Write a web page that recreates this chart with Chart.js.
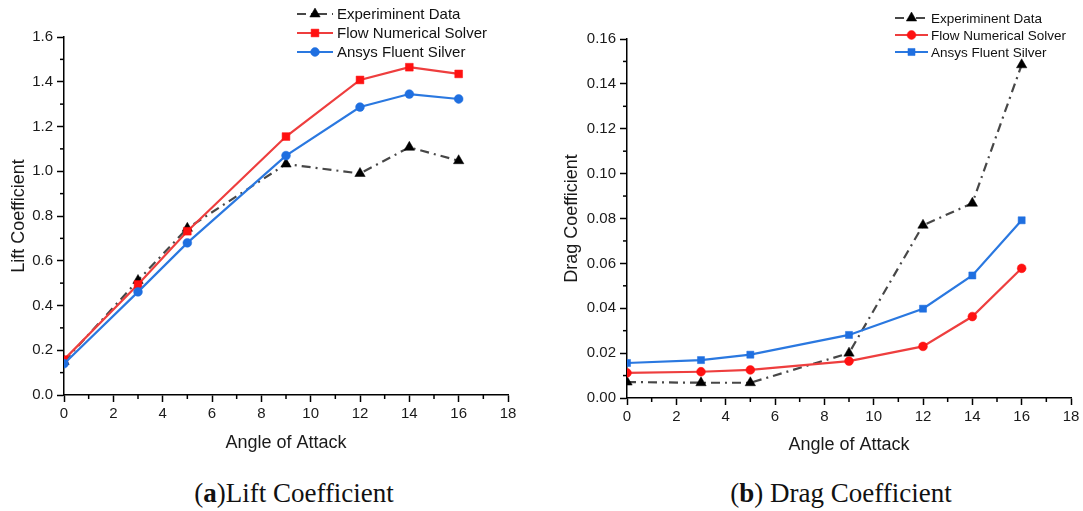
<!DOCTYPE html>
<html>
<head>
<meta charset="utf-8">
<title>Lift and Drag Coefficient</title>
<script src="https://cdn.jsdelivr.net/npm/chart.js@4.4.1/dist/chart.umd.min.js"></script>
<style>
  html, body { margin: 0; padding: 0; background: #fff; }
  #page { position: relative; width: 1083px; height: 511px; overflow: hidden; background: #fff; }
  .panel { position: absolute; top: 0; height: 460px; }
  #liftBox { left: 0; width: 540px; }
  #dragBox { left: 541px; width: 542px; }
  .caption {
    position: absolute; top: 480px; line-height: 26px; height: 26px;
    font-family: "Liberation Serif", "Times New Roman", serif; font-size: 27px;
    color: #111; white-space: nowrap; transform: translateX(-50%);
  }
  .caption b { font-weight: bold; }
</style>
</head>
<body>
<div id="page">
  <div class="panel" id="liftBox"><canvas id="liftChart" width="540" height="460"></canvas></div>
  <div class="panel" id="dragBox"><canvas id="dragChart" width="542" height="460"></canvas></div>
  <div class="caption" style="left:294px">(<b>a</b>)Lift Coefficient</div>
  <div class="caption" style="left:841px">(<b>b</b>) Drag Coefficient</div>
</div>
<script>
// Angle of attack (degrees)
const angles = [0, 3, 5, 9, 12, 14, 16];

// Lift coefficient
const liftExperiment = [0.150, 0.512, 0.745, 1.032, 0.990, 1.107, 1.047];
const liftFlow       = [0.158, 0.494, 0.732, 1.155, 1.408, 1.465, 1.435];
const liftAnsys      = [0.140, 0.461, 0.680, 1.070, 1.287, 1.345, 1.323];

// Drag coefficient
const dragExperiment = [0.0071, 0.0068, 0.0068, 0.0200, 0.0770, 0.0868, 0.1485];
const dragFlow       = [0.0112, 0.0117, 0.0125, 0.0164, 0.0230, 0.0363, 0.0578];
const dragAnsys      = [0.0156, 0.0169, 0.0193, 0.0281, 0.0398, 0.0546, 0.0792];

// Axis ticks
const angleTicks = [0, 2, 4, 6, 8, 10, 12, 14, 16, 18];
const liftTicks  = [0, 0.2, 0.4, 0.6, 0.8, 1.0, 1.2, 1.4, 1.6];
const dragTicks  = [0, 0.02, 0.04, 0.06, 0.08, 0.10, 0.12, 0.14, 0.16];

const seriesNames = ['Experiminent Data', 'Flow Numerical Solver', 'Ansys Fluent Silver'];

const SANS = '"Liberation Sans", Arial, sans-serif';
const RED_LINE = '#ee3e3e', RED_MARK = '#ff1111';
const BLUE_LINE = '#2a78e0', BLUE_MARK = '#1f6fe0';
const GRAY_LINE = '#474747', BLACK_MARK = '#000000';
const EXP_DASH = [9, 5, 2, 5];

const toPoints = (ys) => angles.map((a, i) => ({ x: a, y: ys[i] }));

function series(label, ys, line, mark, style, radius, dash, order) {
  return {
    label,
    data: toPoints(ys),
    order,
    clip: 0,
    borderColor: line,
    backgroundColor: mark,
    borderWidth: 2.2,
    borderDash: dash || [],
    pointStyle: style,
    pointRadius: radius,
    pointHoverRadius: radius,
    pointBackgroundColor: mark,
    pointBorderColor: mark,
    pointBorderWidth: 0.5,
    tension: 0,
    fill: false
  };
}

// Short minor ticks halfway between the labelled ones
const minorTicks = {
  id: 'minorTicks',
  afterDraw(chart) {
    const ctx = chart.ctx;
    const xs = chart.scales.x, ys = chart.scales.y;
    ctx.save();
    ctx.strokeStyle = '#000';
    ctx.lineWidth = 1.5;
    const xv = xs.ticks.map(t => t.value);
    for (let i = 0; i < xv.length - 1; i++) {
      const px = xs.getPixelForValue((xv[i] + xv[i + 1]) / 2);
      ctx.beginPath(); ctx.moveTo(px, xs.top); ctx.lineTo(px, xs.top + 4); ctx.stroke();
    }
    const yv = ys.ticks.map(t => t.value);
    for (let i = 0; i < yv.length - 1; i++) {
      const py = ys.getPixelForValue((yv[i] + yv[i + 1]) / 2);
      ctx.beginPath(); ctx.moveTo(ys.right, py); ctx.lineTo(ys.right - 4, py); ctx.stroke();
    }
    ctx.restore();
  }
};

// Legend drawn in the upper right corner, overlapping the plot top
const cornerLegend = {
  id: 'cornerLegend',
  afterDraw(chart, args, opts) {
    const ctx = chart.ctx;
    ctx.save();
    const sets = chart.data.datasets;
    sets.forEach((ds, i) => {
      const cy = opts.top + i * opts.rowHeight;
      const x0 = opts.left, x1 = opts.left + opts.lineLength;
      const mx = (x0 + x1) / 2;
      ctx.strokeStyle = ds.borderColor;
      ctx.lineWidth = ds.borderWidth;
      ctx.setLineDash(ds.borderDash || []);
      ctx.beginPath(); ctx.moveTo(x0, cy); ctx.lineTo(x1, cy); ctx.stroke();
      ctx.setLineDash([]);
      ctx.fillStyle = ds.pointBackgroundColor;
      ctx.strokeStyle = ds.pointBorderColor;
      ctx.lineWidth = 0.5;
      Chart.helpers.drawPoint(ctx, { pointStyle: ds.pointStyle, radius: ds.pointRadius, rotation: 0, borderWidth: 0.5 }, mx, cy);
      ctx.fillStyle = '#111';
      ctx.font = opts.fontSize + 'px ' + SANS;
      ctx.textBaseline = 'middle';
      ctx.textAlign = 'left';
      ctx.fillText(ds.label, opts.textX, cy + 1);
    });
    ctx.restore();
  }
};

function axis(ticksArr, min, max, digits, titleText, titleFont, titlePadding, fitSize, horizontal) {
  return {
    type: 'linear',
    min, max,
    afterBuildTicks: (s) => { s.ticks = ticksArr.map(v => ({ value: v })); },
    afterFit: (s) => { if (horizontal) s.height = fitSize; else s.width = fitSize; },
    ticks: {
      autoSkip: false, maxRotation: 0,
      padding: horizontal ? 3 : 4,
      color: '#1a1a1a',
      font: { family: SANS, size: 15 },
      callback: (v) => Number(v).toFixed(digits)
    },
    grid: {
      drawOnChartArea: false, drawTicks: true,
      tickLength: 7, tickColor: '#000', tickWidth: 1.5
    },
    border: { display: true, color: '#000', width: 1.5 },
    title: {
      display: true, text: titleText, color: '#1a1a1a',
      font: { family: SANS, size: titleFont, lineHeight: 1 },
      padding: titlePadding
    }
  };
}

function makeChart(id, datasets, yTicks, yMax, yDigits, yTitle, cfg) {
  return new Chart(document.getElementById(id), {
    type: 'line',
    data: { datasets },
    options: {
      responsive: false,
      devicePixelRatio: 1,
      animation: false,
      events: [],
      layout: { padding: { top: cfg.padTop, right: cfg.padRight, left: 0, bottom: 0 } },
      scales: {
        x: axis(angleTicks, 0, 18, 0, 'Angle of Attack', 18, { top: 0, bottom: cfg.xTitlePad }, cfg.xHeight, true),
        y: axis(yTicks, 0, yMax, yDigits, yTitle, 18, { top: cfg.yTitlePad, bottom: 0 }, cfg.yWidth, false)
      },
      plugins: {
        legend: { display: false },
        tooltip: { enabled: false },
        cornerLegend: cfg.legend
      }
    },
    plugins: [minorTicks, cornerLegend]
  });
}

makeChart('liftChart', [
  series(seriesNames[0], liftExperiment, GRAY_LINE, BLACK_MARK, 'triangle', 6, EXP_DASH, 3),
  series(seriesNames[1], liftFlow, RED_LINE, RED_MARK, 'rect', 5.5, null, 2),
  series(seriesNames[2], liftAnsys, BLUE_LINE, BLUE_MARK, 'circle', 4.4, null, 1)
], liftTicks, 1.6, 1, 'Lift Coefficient', {
  padTop: 37, padRight: 32, xHeight: 65, yWidth: 64, xTitlePad: 8, yTitlePad: 10,
  legend: { left: 297, lineLength: 36, textX: 337, top: 14, rowHeight: 19, fontSize: 15 }
});

makeChart('dragChart', [
  series(seriesNames[0], dragExperiment, GRAY_LINE, BLACK_MARK, 'triangle', 6, EXP_DASH, 3),
  series(seriesNames[1], dragFlow, RED_LINE, RED_MARK, 'circle', 4.4, null, 2),
  series(seriesNames[2], dragAnsys, BLUE_LINE, BLUE_MARK, 'rect', 5, null, 1)
], dragTicks, 0.16, 2, 'Drag Coefficient', {
  padTop: 39, padRight: 12, xHeight: 62, yWidth: 86, xTitlePad: 6, yTitlePad: 22,
  legend: { left: 354, lineLength: 33, textX: 390, top: 18, rowHeight: 17, fontSize: 13.5 }
});
</script>
</body>
</html>
